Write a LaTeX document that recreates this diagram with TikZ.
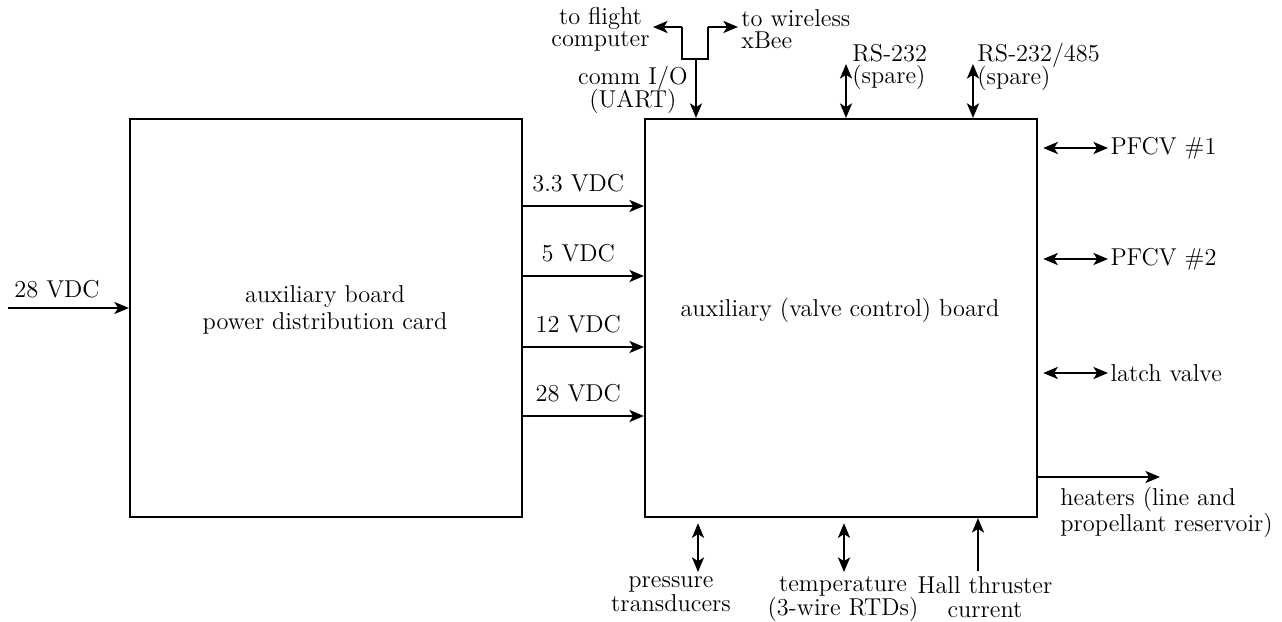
\documentclass[tikz,border=0pt]{standalone}
\usetikzlibrary{arrows.meta}
\begin{document}
\begin{tikzpicture}[x=0.48pt,y=-0.48pt,
  every node/.style={inner sep=0pt, font=\fontsize{11.7pt}{12.2pt}\selectfont},
  box/.style={draw, line width=1pt, minimum width=188.16pt, minimum height=191.04pt},
  lbl/.style={align=center},
  conn/.style={line width=1pt, -{Stealth[length=7pt,width=5.8pt,inset=1.8pt]}},
  bconn/.style={line width=1pt, {Stealth[length=7pt,width=5.8pt,inset=1.8pt]}-{Stealth[length=7pt,width=5.8pt,inset=1.8pt]}},
  wire/.style={line width=1pt}]
\useasboundingbox (0,0) rectangle (1282,622);
% boxes
\node[box] (L) at (326,318) {};
\node[box] (R) at (841,318) {};
\node[lbl] (Lt) at (325,310) {auxiliary board\\[0.5pt]power distribution card};
\node[lbl] (Rt) at (840,310) {auxiliary (valve control) board};
% input
\coordinate (in) at (8,308);
\draw[conn] (in) -- (L.west |- in);
\node[anchor=base west] (inl) at (14,298) {28 VDC};
% supply rails
\foreach \yy/\t/\n in {206/3.3 VDC/a,276/5 VDC/b,347/12 VDC/c,416/28 VDC/d}{
  \coordinate (y\n) at (0,\yy);
  \draw[conn] (L.east |- y\n) -- (R.west |- y\n) node[midway, above=6pt, xshift=-2.5pt] (r\n) {\t};
}
% comm fork
\coordinate (fk) at (696,59);
\coordinate (fl) at (682,59);
\coordinate (fr) at (708,59);
\coordinate (flt) at (682,27);
\coordinate (frt) at (708,27);
\coordinate (tl) at (653,27);
\coordinate (tr) at (738,27);
\draw[conn] (fk) -- (R.north -| fk);
\draw[wire] (flt) -- (fl) -- (fr) -- (frt);
\draw[conn] (flt) -- (tl);
\draw[conn] (frt) -- (tr);
\node[lbl, anchor=east] (fc) at (650,29) {to flight\\[-1.5pt]computer};
\node[align=left, anchor=west] (wx) at (741,29) {to wireless\\[-1.5pt]xBee};
\node[lbl, anchor=east] (cio) at (688,90) {comm I/O\\[-1.5pt](UART)};
% RS-232 ports
\coordinate (p1) at (846,64);
\coordinate (p2) at (973,64);
\draw[bconn] (p1) -- (R.north -| p1);
\draw[bconn] (p2) -- (R.north -| p2);
\node[align=left, anchor=west] (s1) at (852,67) {RS-232\\[-1.5pt](spare)};
\node[align=left, anchor=west] (s2) at (977,67) {RS-232/485\\[-1.5pt](spare)};
% right side
\foreach \yy/\t/\n in {148/PFCV \#1/e,259/PFCV \#2/f,373/latch valve/g}{
  \coordinate (q\n) at (1108,\yy);
  \draw[bconn] ([xshift=2.5pt]R.east |- q\n) -- (q\n);
  \node[anchor=west, xshift=1pt] (t\n) at (q\n) {\t};
}
\coordinate (ht) at (1160,477);
\draw[conn] (R.east |- ht) -- (ht);
\node[align=left, anchor=north west] (htl) at (1060,487) {heaters (line and\\propellant reservoir)};
% bottom
\coordinate (b1) at (698,572);
\coordinate (b2) at (844,572);
\coordinate (b3) at (978,571);
\draw[bconn] ([yshift=-2.5pt]R.south -| b1) -- (b1);
\draw[bconn] ([yshift=-2.5pt]R.south -| b2) -- (b2);
\draw[conn] (b3) -- (R.south -| b3);
\node[lbl, anchor=north] (pt) at (671,576) {pressure\\[-0.5pt]transducers};
\node[lbl, anchor=north] (tt) at (843,576) {temperature\\[-0.5pt](3-wire RTDs)};
\node[lbl, anchor=north] (hc) at (985,576) {Hall thruster\\[-0.5pt]current};
\end{tikzpicture}
\end{document}
